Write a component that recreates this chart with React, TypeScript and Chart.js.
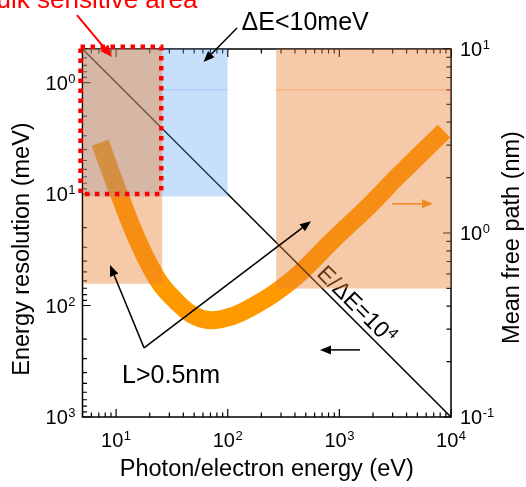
import { useEffect, useRef } from 'react';
import { Chart, registerables } from 'chart.js';

Chart.register(...registerables);

const FONT = '"Liberation Sans", Arial, Helvetica, sans-serif';

// Axis ranges
const energyAxis = [5, 10000]; // eV (bottom / top)
const resolutionAxis = [0.5, 1000]; // meV (left, reversed)
const pathAxis = [0.1, 10]; // nm (right)

// Labelled decades
const energyMajors = [10, 100, 1000, 10000];
const energyExponents = ['1', '2', '3', '4'];
const resolutionMajors = [1, 10, 100, 1000];
const resolutionExponents = ['0', '1', '2', '3'];
const pathMajors = [0.1, 1, 10];
const pathExponents = ['-1', '0', '1'];

// Universal curve of the electron mean free path
const curveEnergy = [7.2, 9.2, 11.2, 14, 18.5, 25, 34, 48, 69, 105, 158, 265, 444, 877, 1880, 3280, 8650];
const curvePath = [3.1, 2.05, 1.5, 1.06, 0.73, 0.53, 0.43, 0.36, 0.336, 0.35, 0.391, 0.472, 0.606, 0.916, 1.42, 2.01, 3.58];

// Resolving-power limit E/ΔE = 10^4
const limitEnergy = [5, 10000];
const limitResolution = [0.5, 1000];
const limitLabelAt = [570, 57];

// Shaded areas
const lowPathEnergy = [5, 26];
const lowPathFloor = [0.53, 0.53];
const highPathEnergy = [271, 10000];
const highPathFloor = [0.5, 0.5];
const fineResEnergy = [5, 100];
const fineResLimit = [10.5, 10.5];
const seamHighEnergy = [271, 10000];
const seamLowEnergy = [26, 100];
const seamPath = [6, 6];

// Bulk-sensitive window
const bulkEnergy = [4.8, 25.4];
const bulkResolution = [0.477, 10];

// Annotations (energy eV, resolution meV)
const bulkLabelAt = [0.63, 0.216];
const bulkArrowFrom = [4.46, 0.248];
const bulkArrowTo = [9.19, 0.59];
const resLabelAt = [133, 0.338];
const resArrowFrom = [121, 0.324];
const resArrowTo = [60.7, 0.654];
const pathLabelAt = [11.3, 495];
const pathArrowFrom = [17.8, 240];
const pathArrowToLow = [8.82, 43.3];
const pathArrowToHigh = [557, 17.5];
const leftArrowFrom = [1531, 250];
const leftArrowTo = [671, 250];
// (energy eV, mean free path nm)
const rightArrowFrom = [2962, 1.44];
const rightArrowTo = [6902, 1.44];

const ORANGE_FILL = 'rgba(234,127,47,0.42)';
const BLUE_FILL = 'rgba(90,160,240,0.34)';

function logTicks(min: number, max: number) {
  const out: { v: number; major: boolean }[] = [];
  const e0 = Math.floor(Math.log10(min));
  const e1 = Math.ceil(Math.log10(max));
  for (let e = e0; e <= e1; e++) {
    for (let m = 1; m <= 9; m++) {
      const v = m * Math.pow(10, e);
      if (v >= min * 0.999 && v <= max * 1.001) out.push({ v, major: m === 1 });
    }
  }
  return out;
}

function drawPow(
  ctx: CanvasRenderingContext2D,
  exp: string,
  x: number,
  cy: number,
  align: 'left' | 'right' | 'center'
) {
  ctx.font = `20px ${FONT}`;
  const bw = ctx.measureText('10').width;
  ctx.font = `13px ${FONT}`;
  const ew = ctx.measureText(exp).width;
  const total = bw + 0.5 + ew;
  const left = align === 'left' ? x : align === 'right' ? x - total : x - total / 2;
  const base = cy + 7.2;
  ctx.textAlign = 'left';
  ctx.textBaseline = 'alphabetic';
  ctx.font = `20px ${FONT}`;
  ctx.fillText('10', left, base);
  ctx.font = `13px ${FONT}`;
  ctx.fillText(exp, left + bw + 0.5, base - 7);
}

function arrow(
  ctx: CanvasRenderingContext2D,
  x0: number,
  y0: number,
  x1: number,
  y1: number,
  color: string,
  lw: number,
  head: number,
  half: number
) {
  const ang = Math.atan2(y1 - y0, x1 - x0);
  const bx = x1 - head * Math.cos(ang);
  const by = y1 - head * Math.sin(ang);
  ctx.strokeStyle = color;
  ctx.lineWidth = lw;
  ctx.beginPath();
  ctx.moveTo(x0, y0);
  ctx.lineTo(bx, by);
  ctx.stroke();
  ctx.fillStyle = color;
  ctx.beginPath();
  ctx.moveTo(x1, y1);
  ctx.lineTo(bx + half * Math.sin(ang), by - half * Math.cos(ang));
  ctx.lineTo(bx - half * Math.sin(ang), by + half * Math.cos(ang));
  ctx.closePath();
  ctx.fill();
}

const framePlugin = {
  id: 'frame',
  beforeDatasetsDraw(chart: any) {
    const { ctx, chartArea: a, scales } = chart;
    const xs = scales.x;
    const ys = scales.y;
    const y2 = scales.y2;
    ctx.save();
    ctx.strokeStyle = '#000';
    ctx.lineWidth = 1.5;
    ctx.strokeRect(a.left, a.top, a.right - a.left, a.bottom - a.top);

    ctx.lineWidth = 1.2;
    ctx.beginPath();
    for (const t of logTicks(energyAxis[0], energyAxis[1])) {
      const x = xs.getPixelForValue(t.v);
      const len = t.major ? 8 : 4.5;
      ctx.moveTo(x, a.bottom);
      ctx.lineTo(x, a.bottom - len);
      ctx.moveTo(x, a.top);
      ctx.lineTo(x, a.top + len);
    }
    for (const t of logTicks(resolutionAxis[0], resolutionAxis[1])) {
      const y = ys.getPixelForValue(t.v);
      const len = t.major ? 8 : 4.5;
      ctx.moveTo(a.left, y);
      ctx.lineTo(a.left + len, y);
    }
    for (const t of logTicks(pathAxis[0], pathAxis[1])) {
      const y = y2.getPixelForValue(t.v);
      const len = t.major ? 8 : 4.5;
      ctx.moveTo(a.right, y);
      ctx.lineTo(a.right - len, y);
    }
    ctx.stroke();

    // label along the resolving-power line
    const p0x = xs.getPixelForValue(limitEnergy[0]);
    const p0y = ys.getPixelForValue(limitResolution[0]);
    const p1x = xs.getPixelForValue(limitEnergy[1]);
    const p1y = ys.getPixelForValue(limitResolution[1]);
    const ang = Math.atan2(p1y - p0y, p1x - p0x);
    const ax = xs.getPixelForValue(limitLabelAt[0]);
    const ay = ys.getPixelForValue(limitLabelAt[1]);
    ctx.translate(ax + 5 * Math.sin(ang), ay - 5 * Math.cos(ang));
    ctx.rotate(ang);
    ctx.fillStyle = '#000';
    ctx.textAlign = 'left';
    ctx.textBaseline = 'alphabetic';
    ctx.font = `23px ${FONT}`;
    const main = 'E/ΔE=10';
    ctx.fillText(main, 0, 0);
    const w = ctx.measureText(main).width;
    ctx.font = `15px ${FONT}`;
    ctx.fillText('4', w + 0.5, -8.5);
    ctx.restore();
  },
  afterDraw(chart: any) {
    const { ctx, chartArea: a, scales } = chart;
    const xs = scales.x;
    const ys = scales.y;
    const y2 = scales.y2;
    const X = (v: number) => xs.getPixelForValue(v);
    const Y = (v: number) => ys.getPixelForValue(v);
    ctx.save();
    ctx.fillStyle = '#000';

    // tick labels
    energyMajors.forEach((v, i) => drawPow(ctx, energyExponents[i], X(v), a.bottom + 23, 'center'));
    resolutionMajors.forEach((v, i) => drawPow(ctx, resolutionExponents[i], a.left - 7, Y(v), 'right'));
    pathMajors.forEach((v, i) => drawPow(ctx, pathExponents[i], a.right + 9, y2.getPixelForValue(v), 'left'));

    // axis titles
    ctx.font = `23.5px ${FONT}`;
    ctx.textAlign = 'center';
    ctx.textBaseline = 'alphabetic';
    ctx.fillText('Photon/electron energy (eV)', (a.left + a.right) / 2, a.bottom + 59);
    ctx.save();
    ctx.translate(a.left - 54, a.top + 200);
    ctx.rotate(-Math.PI / 2);
    ctx.fillText('Energy resolution (meV)', 0, 0);
    ctx.restore();
    ctx.save();
    ctx.translate(a.right + 67.5, a.top + 188.5);
    ctx.rotate(-Math.PI / 2);
    ctx.fillText('Mean free path (nm)', 0, 0);
    ctx.restore();

    // bulk-sensitive window
    ctx.save();
    ctx.strokeStyle = '#ff0000';
    ctx.lineWidth = 4.5;
    ctx.setLineDash([4.5, 5.5]);
    const bx0 = X(bulkEnergy[0]);
    const bx1 = X(bulkEnergy[1]);
    const by0 = Y(bulkResolution[0]);
    const by1 = Y(bulkResolution[1]);
    ctx.strokeRect(bx0, by0, bx1 - bx0, by1 - by0);
    ctx.restore();

    // annotations
    ctx.textAlign = 'left';
    ctx.fillStyle = '#ff0000';
    ctx.font = `26px ${FONT}`;
    ctx.fillText('bulk sensitive area', X(bulkLabelAt[0]), Y(bulkLabelAt[1]));
    arrow(ctx, X(bulkArrowFrom[0]), Y(bulkArrowFrom[1]), X(bulkArrowTo[0]), Y(bulkArrowTo[1]), '#ff0000', 2, 12, 5);

    ctx.fillStyle = '#000';
    ctx.font = `25px ${FONT}`;
    ctx.fillText('ΔE<10meV', X(resLabelAt[0]), Y(resLabelAt[1]));
    arrow(ctx, X(resArrowFrom[0]), Y(resArrowFrom[1]), X(resArrowTo[0]), Y(resArrowTo[1]), '#000', 1.5, 11, 4.5);

    ctx.fillStyle = '#000';
    ctx.font = `25px ${FONT}`;
    ctx.fillText('L>0.5nm', X(pathLabelAt[0]), Y(pathLabelAt[1]));
    arrow(ctx, X(pathArrowFrom[0]), Y(pathArrowFrom[1]), X(pathArrowToLow[0]), Y(pathArrowToLow[1]), '#000', 1.5, 11, 4.5);
    arrow(ctx, X(pathArrowFrom[0]), Y(pathArrowFrom[1]), X(pathArrowToHigh[0]), Y(pathArrowToHigh[1]), '#000', 1.5, 11, 4.5);

    arrow(ctx, X(leftArrowFrom[0]), Y(leftArrowFrom[1]), X(leftArrowTo[0]), Y(leftArrowTo[1]), '#000', 1.5, 11, 4.5);
    arrow(
      ctx,
      X(rightArrowFrom[0]),
      y2.getPixelForValue(rightArrowFrom[1]),
      X(rightArrowTo[0]),
      y2.getPixelForValue(rightArrowTo[1]),
      '#f28a1e',
      1.5,
      11,
      4.5
    );
    ctx.restore();
  },
};

const pts = (xs: number[], ys: number[]) => xs.map((x, i) => ({ x, y: ys[i] }));

export default function App() {
  const ref = useRef<HTMLCanvasElement | null>(null);

  useEffect(() => {
    if (!ref.current) return;
    const clear = 'rgba(0,0,0,0)';
    const chart = new Chart(ref.current, {
      type: 'line',
      data: {
        datasets: [
          {
            label: 'seam high',
            data: pts(seamHighEnergy, seamPath),
            yAxisID: 'y2',
            borderColor: 'rgba(234,127,47,0.45)',
            borderWidth: 1,
            pointRadius: 0,
            fill: false,
            order: -1,
          },
          {
            label: 'seam low',
            data: pts(seamLowEnergy, seamPath),
            yAxisID: 'y2',
            borderColor: 'rgba(90,160,240,0.3)',
            borderWidth: 1,
            pointRadius: 0,
            fill: false,
            order: -1,
          },
          {
            label: 'L>0.5nm low',
            data: pts(lowPathEnergy, lowPathFloor),
            yAxisID: 'y2',
            borderColor: clear,
            borderWidth: 0,
            pointRadius: 0,
            backgroundColor: ORANGE_FILL,
            fill: { value: pathAxis[1] },
            order: 0,
          },
          {
            label: 'L>0.5nm high',
            data: pts(highPathEnergy, highPathFloor),
            yAxisID: 'y2',
            borderColor: clear,
            borderWidth: 0,
            pointRadius: 0,
            backgroundColor: ORANGE_FILL,
            fill: { value: pathAxis[1] },
            order: 0,
          },
          {
            label: 'ΔE<10meV',
            data: pts(fineResEnergy, fineResLimit),
            yAxisID: 'y',
            borderColor: clear,
            borderWidth: 0,
            pointRadius: 0,
            backgroundColor: BLUE_FILL,
            fill: { value: resolutionAxis[0] },
            order: 1,
          },
          {
            label: 'E/ΔE=10^4',
            data: pts(limitEnergy, limitResolution),
            yAxisID: 'y',
            borderColor: '#000',
            borderWidth: 1.5,
            pointRadius: 0,
            fill: false,
            order: 2,
          },
          {
            label: 'mean free path',
            data: pts(curveEnergy, curvePath),
            yAxisID: 'y2',
            borderColor: '#ff9900',
            borderWidth: 18,
            borderCapStyle: 'butt',
            borderJoinStyle: 'round',
            pointRadius: 0,
            tension: 0.4,
            fill: false,
            order: 3,
          },
        ],
      },
      options: {
        animation: false,
        responsive: false,
        devicePixelRatio: 1,
        events: [],
        layout: { padding: { left: 82.5, top: 49, right: 75, bottom: 70 } },
        plugins: { legend: { display: false }, tooltip: { enabled: false } },
        scales: {
          x: { type: 'logarithmic', min: energyAxis[0], max: energyAxis[1], display: false },
          y: {
            type: 'logarithmic',
            min: resolutionAxis[0],
            max: resolutionAxis[1],
            reverse: true,
            display: false,
          },
          y2: { type: 'logarithmic', position: 'right', min: pathAxis[0], max: pathAxis[1], display: false },
        },
      },
      plugins: [framePlugin],
    } as any);
    return () => chart.destroy();
  }, []);

  return (
    <div style={{ position: 'absolute', left: 0, top: 0, width: 526, height: 487, background: '#fff' }}>
      <canvas ref={ref} width={526} height={487} style={{ width: 526, height: 487 }} />
    </div>
  );
}
